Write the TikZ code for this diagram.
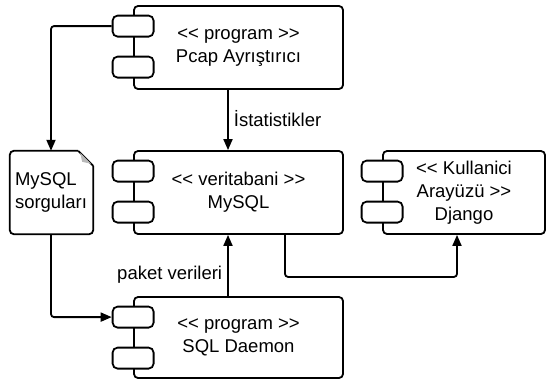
\documentclass[tikz,border=0pt]{standalone}
\usepackage{fontspec}
\setmainfont{Liberation Sans}
\usetikzlibrary{arrows.meta,positioning,calc}
% guillemet ligatürü olmadan << ve >>
\newcommand{\ltlt}{<\kern0pt<}
\newcommand{\gtgt}{>\kern0pt>}
\tikzset{
    % component box with two ports
    compbox/.style={
        draw,
        line width=1.8pt,
        rounded corners=4pt,
        fill=white,
        align=center,
        inner sep=0pt,
        font=\fontsize{18.5}{23}\selectfont
    },
    port/.style={
        draw,
        line width=1.8pt,
        rounded corners=5pt,
        fill=white,
        minimum width=41pt,
        minimum height=21pt,
        inner sep=0pt
    },
    flowarrow/.style={
        line width=1.8pt,
        rounded corners=3pt,
        -{Triangle[length=11pt, width=9pt]}
    },
    lbl/.style={
        inner sep=0pt,
        font=\fontsize{18.5}{23}\selectfont
    }
}

\begin{document}
\begin{tikzpicture}[x=1pt,y=-1pt]
    \useasboundingbox (0,0) rectangle (546,383);

    % bileşenler
    \node[compbox, minimum width=209pt, minimum height=83pt] (pcap) at (238.5,47.5)
        {\ltlt{} program \gtgt\\Pcap Ayrıştırıcı};
    \node[compbox, minimum width=209pt, minimum height=83pt] (mysql) at (238.5,192.5)
        {\ltlt{} veritabani \gtgt\\MySQL};
    \node[compbox, minimum width=162pt, minimum height=83pt] (django) at (464,192.5)
        {\ltlt{} Kullanici\\Arayüzü \gtgt\\Django};
    \node[compbox, minimum width=209pt, minimum height=81pt] (sql) at (238.5,337.5)
        {\ltlt{} program \gtgt\\SQL Daemon};

    % portlar
    \foreach \c in {pcap,mysql,django,sql}{
        \node[port] (\c A) at ([yshift=-21pt]\c.north west) {};
        \node[port] (\c B) at ([yshift=-62pt]\c.north west) {};
    }

    % not (belge)
    \node[lbl, minimum width=83pt, minimum height=83pt, text width=73pt, align=left] (sorgu) at (51.5,192.5)
        {MySQL\\sorguları};
    \draw[line width=1.8pt, rounded corners=4pt]
        ([xshift=-15pt]sorgu.north east) -- (sorgu.north west) -- (sorgu.south west)
        -- (sorgu.south east) -- ([yshift=-15pt]sorgu.north east);
    \draw[line width=1.8pt, line join=round]
        ([xshift=-15pt]sorgu.north east) -- ([yshift=-15pt]sorgu.north east);
    \fill[gray!55]
        ([xshift=-13pt,yshift=-2pt]sorgu.north east) -- ([xshift=-2pt,yshift=-13pt]sorgu.north east)
        -- ([xshift=-11pt,yshift=-11pt]sorgu.north east) -- cycle;

    % bağlantılar
    \draw[flowarrow] (pcapA.west) -| ([xshift=-0.5pt]sorgu.north);
    \draw[flowarrow] ([xshift=-0.5pt]sorgu.south) |- (sqlA.west);
    \draw[flowarrow] ([xshift=-10.5pt]pcap.south) -- ([xshift=-10.5pt]mysql.north)
        node[lbl, pos=0.47, anchor=west, xshift=5pt] (istat) {İstatistikler};
    \draw[flowarrow] ([xshift=-10.5pt]sql.north) -- ([xshift=-10.5pt]mysql.south)
        node[lbl, pos=0.35, anchor=east, xshift=-5pt] (paket) {paket verileri};
    \draw[flowarrow] ([xshift=46.5pt]mysql.south) -- ++(0,42) -| ([xshift=-7pt]django.south);
\end{tikzpicture}
\end{document}
